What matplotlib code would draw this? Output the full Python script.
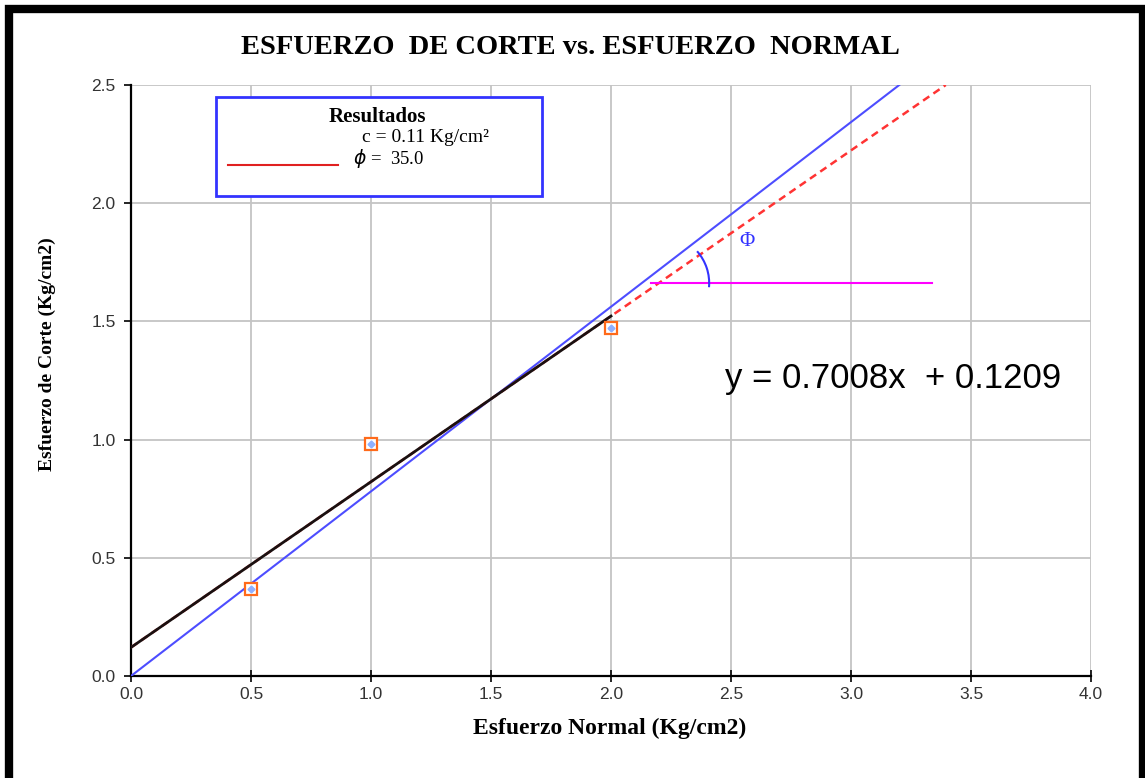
import numpy as np
import matplotlib
matplotlib.use("Agg")
import matplotlib.pyplot as plt
from matplotlib.patches import Rectangle, Arc
from matplotlib.lines import Line2D

# Ensayo de corte directo: esfuerzo normal vs esfuerzo de corte
esfuerzo_normal = [0.5, 1.0, 2.0]
esfuerzo_corte = [0.37, 0.98, 1.47]

pendiente = 0.7008
intercepto = 0.1209
cohesion = 0.11
angulo_phi = 35.0
pendiente_origen = 0.781   # envolvente trazada desde el origen
nivel_horizontal = 1.662   # recta horizontal de referencia para el ángulo
x_horizontal = [2.167, 3.337]

x_ticks = [0.0, 0.5, 1.0, 1.5, 2.0, 2.5, 3.0, 3.5, 4.0]
y_ticks = [0.0, 0.5, 1.0, 1.5, 2.0, 2.5]

W, H = 1145, 778
fig = plt.figure(figsize=(W / 100, H / 100), dpi=100)
fig.patch.set_facecolor("white")


def fx(px):
    return px / W


def fy(py):
    return 1 - py / H


# marco negro de la figura
fig.patches.append(Rectangle((fx(9), fy(780)), fx(1134), (780 - 9) / H,
                             transform=fig.transFigure, fill=False,
                             edgecolor="black", linewidth=6, zorder=10))

ax = fig.add_axes([fx(131), fy(676), fx(1091) - fx(131), fy(85) - fy(676)])
ax.set_xlim(0, 4)
ax.set_ylim(0, 2.5)
ax.set_xticks(x_ticks)
ax.set_yticks(y_ticks)
ax.set_xticklabels([f"{v:.1f}" for v in x_ticks])
ax.set_yticklabels([f"{v:.1f}" for v in y_ticks])
ax.grid(True, color="#c4c4c4", linewidth=1.3)
ax.set_axisbelow(True)
for s in ["top", "right"]:
    ax.spines[s].set_visible(False)
for s in ["left", "bottom"]:
    ax.spines[s].set_linewidth(1.6)
    ax.spines[s].set_color("black")
ax.tick_params(axis="x", direction="inout", length=8, width=1.2,
               labelsize=12.5, labelcolor="#333333", pad=4)
ax.tick_params(axis="y", direction="out", length=5, width=1.2,
               labelsize=12.5, labelcolor="#333333", pad=6)
for lab in ax.get_xticklabels() + ax.get_yticklabels():
    lab.set_family(["Liberation Sans Narrow", "Liberation Sans", "DejaVu Sans"])

# envolvente desde el origen
x_end = 2.5 / pendiente_origen
ax.plot([0, x_end], [0, pendiente_origen * x_end], color="#4d4dff", lw=1.5, zorder=3)

# prolongación punteada de la recta de ajuste
x_fin = (2.5 - intercepto) / pendiente
ax.plot([0, x_fin], [intercepto, pendiente * x_fin + intercepto],
        color="#ff3333", lw=1.8, ls=(0, (3, 2)), zorder=3)
# recta de ajuste en el rango de ensayo
ax.plot([0, 2.0], [intercepto, pendiente * 2.0 + intercepto],
        color="#1a1010", lw=2.0, zorder=4)

# puntos del ensayo
ax.plot(esfuerzo_normal, esfuerzo_corte, ls="none", marker="s", ms=8.5,
        mfc="white", mec="#ff6a1a", mew=1.6, zorder=5)
ax.plot(esfuerzo_normal, esfuerzo_corte, ls="none", marker="D", ms=3.5,
        mfc="#8fb0ff", mec="#8fb0ff", zorder=6)

# recta horizontal y arco del ángulo de fricción
ax.plot(x_horizontal, [nivel_horizontal] * 2, color="#ff00ff", lw=1.5, zorder=3)
x_int = (nivel_horizontal - intercepto) / pendiente
r_px = 48
ax.add_patch(Arc((x_int + 0.01, nivel_horizontal), 2 * r_px / 240, 2 * r_px / 236.4,
                 theta1=-5, theta2=42, color="#3333ff", lw=1.5, zorder=4))
ax.text(2.567, 1.84, "Φ", color="#3333ff", fontsize=15, ha="center", va="center",
        family=["Liberation Serif", "DejaVu Serif"], zorder=5)

ax.text((725 - 131) / 240, 1.26,
        f"y = {pendiente:.4f}x  + {intercepto:.4f}",
        fontsize=25, family=["Liberation Sans", "DejaVu Sans"], color="black",
        ha="left", va="center", zorder=6)

# cuadro de resultados
fig.patches.append(Rectangle((fx(216), fy(196)), fx(542) - fx(216), fy(97) - fy(196),
                             transform=fig.transFigure, fill=True, facecolor="white",
                             edgecolor="#3333ff", linewidth=2, zorder=8))
serif = ["Liberation Serif", "DejaVu Serif"]
fig.text(fx(377), fy(117), "Resultados", fontsize=15, fontweight="bold",
         family=serif, ha="center", va="center", zorder=9)
fig.text(fx(362), fy(137), f"c = {cohesion:.2f} Kg/cm²", fontsize=14,
         family=serif, ha="left", va="center", zorder=9)
fig.text(fx(353), fy(158), f"$\\phi$ =  {angulo_phi:.1f}", fontsize=13.5,
         family=serif, ha="left", va="center", zorder=9)
fig.lines.append(Line2D([fx(228), fx(338)], [fy(165), fy(165)],
                        transform=fig.transFigure, color="#e02020", lw=1.5, zorder=9))

fig.text(fx(570), fy(48), "ESFUERZO  DE CORTE vs. ESFUERZO  NORMAL",
         fontsize=20.5, fontweight="bold", family=serif, ha="center", va="center")
fig.text(fx(610), fy(728), "Esfuerzo Normal (Kg/cm2)", fontsize=17,
         fontweight="bold", family=serif, ha="center", va="center")
fig.text(fx(47), fy(354), "Esfuerzo de Corte (Kg/cm2)", fontsize=14,
         fontweight="bold", family=serif, ha="center", va="center", rotation=90)

fig.savefig("out.png", dpi=100)
